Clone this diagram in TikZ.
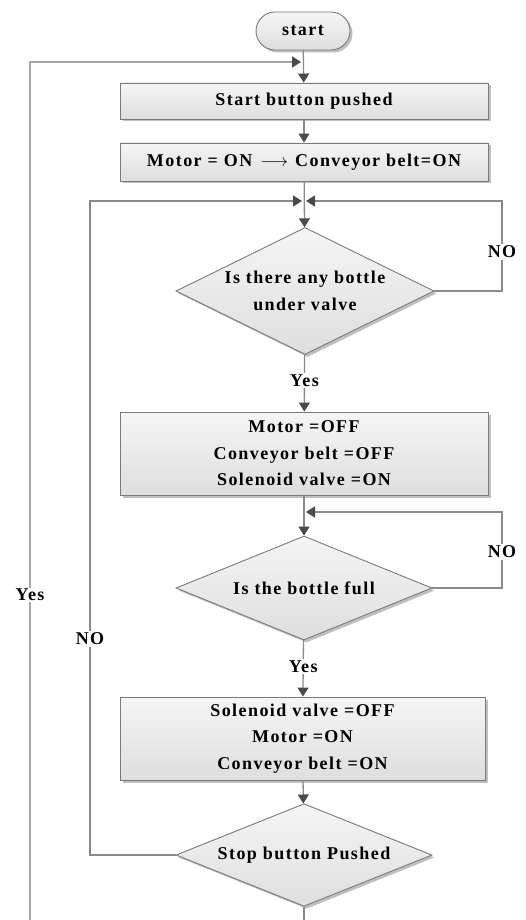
\documentclass[tikz,border=0pt]{standalone}
\usepackage{fontspec}
\setmainfont{Liberation Serif}[LetterSpace=8]
\usetikzlibrary{shapes.geometric,arrows.meta,shadows,calc}
\definecolor{linec}{HTML}{8A8A8A}
\definecolor{tipc}{HTML}{4A4A4A}
\definecolor{edgec}{HTML}{7A7A7A}
\tikzset{
  boxbase/.style={draw=edgec, line width=0.9pt, top color=black!4, bottom color=black!13,
    font=\fontsize{18}{26.5}\selectfont\bfseries, align=center, inner sep=0pt,
    drop shadow={shadow xshift=2.5pt, shadow yshift=-2.5pt, opacity=0.25, fill=black}},
  proc/.style={boxbase, rectangle, minimum width=368pt},
  term/.style={boxbase, rectangle, rounded corners=19pt, minimum width=94pt, minimum height=38pt},
  dec/.style={boxbase, diamond, minimum width=258pt, minimum height=127pt, aspect=2},
  conn/.style={draw=linec, line width=1.3pt},
  arr/.style={conn, -{Triangle[length=9pt,width=11pt,color=tipc]}},
  lab/.style={fill=white, font=\fontsize{18}{20}\selectfont\bfseries, inner sep=1.5pt}
}
\begin{document}
\begin{tikzpicture}[x=1pt,y=-1pt]
\useasboundingbox (0,0) rectangle (525,920);
% nodes
\node[term] (start) at (303,31) {start};
\node[proc, minimum height=36pt] (b1) at (304,101) {Start button pushed};
\node[proc, minimum height=38pt] (b2) at (304,162) {Motor = ON\hspace{8pt}$\longrightarrow$\hspace{7pt}Conveyor belt=ON};
\node[dec] (d1) at (305,291) {Is there any bottle\\under valve};
\node[proc, minimum height=83pt] (b3) at (304,453.5) {Motor =OFF\\Conveyor belt =OFF\\Solenoid valve =ON};
\node[dec, minimum width=256pt, minimum height=104pt] (d2) at (304,588) {Is the bottle full};
\node[proc, minimum width=365pt, minimum height=83pt] (b4) at (302.5,738.5) {Solenoid valve =OFF\\Motor =ON\\Conveyor belt =ON};
\node[dec, minimum width=256pt, minimum height=94pt] (d3) at (304,855) {Stop button Pushed};
% coordinates
\coordinate (j0) at (303,62);
\coordinate (j1) at (304,201);
\coordinate (j2) at (304,512);
\coordinate (r1) at (502,201);
\coordinate (r2) at (502,512);
\coordinate (l1) at (90,201);
\coordinate (lb) at (30,920);
\coordinate (cb) at (304,920);
% connectors
\draw[arr] (start) -- (b1);
\draw[arr] (b1) -- (b2);
\draw[arr] (b2) -- (d1);
\draw[arr] (d1.east) -| (r1) -- ($(j1)+(2,0)$);
\draw[arr] (d1) -- node[lab, pos=0.46] (y1) {Yes} (b3);
\draw[arr] (b3) -- (d2);
\draw[arr] (d2.east) -| (r2) -- ($(j2)+(2,0)$);
\draw[arr] (d2) -- node[lab, pos=0.47] (y2) {Yes} (b4);
\draw[arr] (b4) -- (d3);
\draw[arr] (d3.west) -| (l1) -- ($(j1)+(-2,0)$);
\draw[conn] (d3.south) -- (cb);
\draw[arr, draw=black!35, line width=1.8pt] (lb) |- ($(j0)+(-2,0)$);
% labels on lines
\node[lab] (n1) at (502,252) {NO};
\node[lab] (n2) at (502,552) {NO};
\node[lab] (n3) at (90,639) {NO};
\node[lab] (y3) at (30,595) {Yes};
\end{tikzpicture}
\end{document}
